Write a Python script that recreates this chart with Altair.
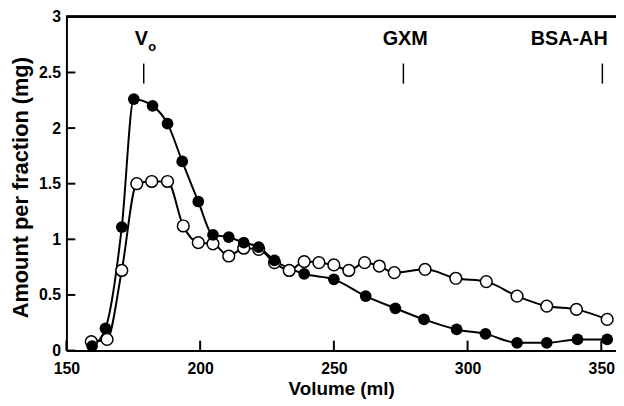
import altair as alt
import pandas as pd

# Filled circles series
vol_filled = [159.6, 164.6, 170.7, 175.2, 182.2, 187.8, 193.3, 199.3, 204.8, 210.7,
              216.3, 221.9, 227.8, 238.9, 250.0, 261.9, 273.0, 283.7, 295.9, 306.7,
              318.5, 329.6, 341.1, 352.2]
amt_filled = [0.04, 0.20, 1.11, 2.26, 2.20, 2.04, 1.70, 1.34, 1.04, 1.02,
              0.97, 0.93, 0.81, 0.69, 0.64, 0.49, 0.38, 0.28, 0.19, 0.15,
              0.07, 0.07, 0.10, 0.10]

# Open circles series
vol_open = [159.3, 165.2, 170.7, 176.3, 181.9, 187.8, 193.7, 199.3, 204.8, 210.7,
            216.3, 221.9, 227.8, 233.3, 238.9, 244.4, 250.0, 255.6, 261.5, 267.0,
            272.6, 284.1, 295.6, 307.0, 318.5, 329.6, 340.7, 352.2]
amt_open = [0.08, 0.10, 0.72, 1.50, 1.52, 1.52, 1.12, 0.97, 0.96, 0.85,
            0.92, 0.91, 0.79, 0.72, 0.80, 0.79, 0.77, 0.72, 0.79, 0.76,
            0.70, 0.73, 0.65, 0.62, 0.49, 0.40, 0.37, 0.28]

# Markers
marker_names = ["V", "GXM", "BSA-AH"]
marker_vol = [178.9, 276.0, 350.4]
marker_label_vol = [178.0, 276.7, 338.0]

x_ticks = [150, 200, 250, 300, 350]
y_ticks = [0, 0.5, 1, 1.5, 2, 2.5, 3]

FONT = "Liberation Sans"
W, H = 555, 337
xscale = alt.Scale(domain=[150, 355.5], nice=False, zero=False)
yscale = alt.Scale(domain=[0, 3], nice=False)

df_f = pd.DataFrame({"v": vol_filled, "a": amt_filled})
df_o = pd.DataFrame({"v": vol_open, "a": amt_open})
df_m = pd.DataFrame({"name": marker_names, "v": marker_vol, "lv": marker_label_vol})
df_xt = pd.DataFrame({"v": x_ticks})
df_yt = pd.DataFrame({"a": y_ticks})

xenc = alt.X("v:Q", scale=xscale,
             axis=alt.Axis(values=x_ticks, title="Volume (ml)", ticks=False, grid=False,
                           labelFlush=False,
                           labelFontSize=16, labelFontWeight="bold", labelFont=FONT,
                           labelColor="black", domainColor="black", domainWidth=2,
                           labelPadding=10, titleFontSize=19, titleFont=FONT,
                           titleFontWeight="bold", titleColor="black", titlePadding=3))
yenc = alt.Y("a:Q", scale=yscale,
             axis=alt.Axis(values=y_ticks, title="Amount per fraction (mg)", ticks=False,
                           grid=False, labelFlush=False, labelFontSize=16, labelFontWeight="bold",
                           labelFont=FONT, labelColor="black", domainColor="black",
                           domainWidth=2, labelPadding=6, titleFontSize=22,
                           titleFont=FONT, titleFontWeight="bold", titleColor="black",
                           titlePadding=6, titleY=172,
                           labelExpr="datum.value == 0 ? '0' : format(datum.value, '.2~f')"))

line_f = alt.Chart(df_f).mark_line(interpolate="monotone", color="black", strokeWidth=2).encode(x=xenc, y=yenc)
pts_f = alt.Chart(df_f).mark_point(filled=True, color="black", size=140, opacity=1).encode(x="v:Q", y="a:Q")
line_o = alt.Chart(df_o).mark_line(interpolate="monotone", color="black", strokeWidth=2).encode(x="v:Q", y="a:Q")
pts_o = alt.Chart(df_o).mark_point(filled=True, fill="white", stroke="black", strokeWidth=1.5,
                                   size=140, opacity=1).encode(x="v:Q", y="a:Q")

xt = alt.Chart(df_xt).mark_rule(color="black", strokeWidth=2).encode(
    x="v:Q", y=alt.value(H), y2=alt.value(H - 10))
yt = alt.Chart(df_yt).mark_rule(color="black", strokeWidth=2).encode(
    y="a:Q", x=alt.value(0), x2=alt.value(9))
top = alt.Chart(df_yt).mark_rule(color="black", strokeWidth=2).encode(
    x=alt.value(0), x2=alt.value(W), y=alt.value(0))

mk = alt.Chart(df_m).mark_rule(color="black", strokeWidth=1.5).encode(
    x="v:Q", y=alt.datum(2.58), y2=alt.datum(2.40))
mtext = alt.Chart(df_m).mark_text(font=FONT, fontSize=20, fontWeight="bold", color="black",
                                  baseline="middle").encode(
    x="lv:Q", y=alt.datum(2.8), text="name:N")
sub = alt.Chart(df_m[df_m["name"] == "V"]).mark_text(font=FONT, fontSize=13, fontWeight="bold",
                                                     color="black", dx=11, dy=8).encode(
    x="lv:Q", y=alt.datum(2.8), text=alt.value("o"))

chart = alt.layer(line_f, line_o, pts_o, pts_f, xt, yt, top, mk, mtext, sub).properties(
    width=W, height=H,
    autosize=alt.AutoSizeParams(type="none"),
    padding={"left": 59, "top": 7, "right": 0, "bottom": 50},
).configure_view(stroke=None).configure(background="white")

chart.save("out.html", embed_options={"renderer": "svg", "actions": False})
